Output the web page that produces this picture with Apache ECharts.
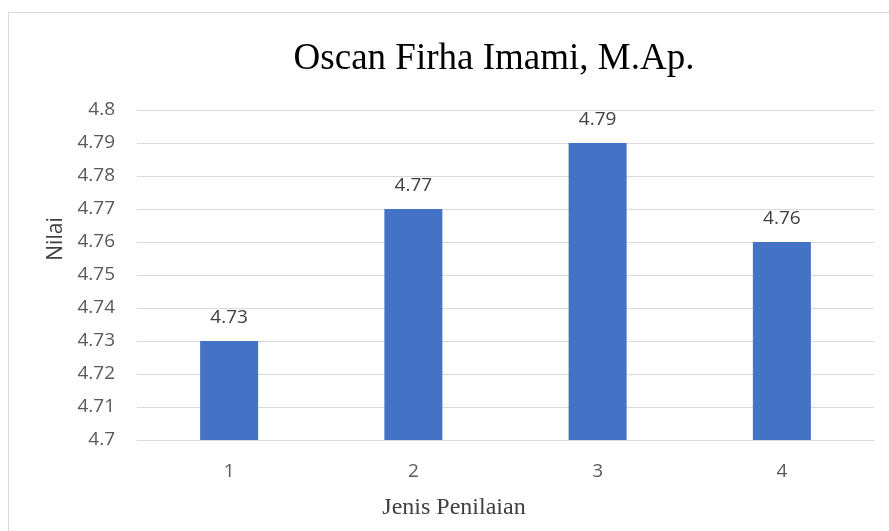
<!DOCTYPE html>
<html><head><meta charset="utf-8">
<script src="https://cdn.jsdelivr.net/npm/echarts@6/dist/echarts.min.js"></script>
<style>html,body{margin:0;padding:0;background:#fff}#c{width:889px;height:531px}</style>
</head><body><div id="c"></div>
<script>
const categories = ['1','2','3','4'];
const values = [4.73, 4.77, 4.79, 4.76];
const titleText = 'Oscan Firha Imami, M.Ap.';
const xName = 'Jenis Penilaian';
const yName = 'Nilai';
const chart = echarts.init(document.getElementById('c'));
chart.setOption({
  animation: false,
  title: { text: titleText, left: 489, top: 36, textAlign: 'center',
    textStyle: { fontFamily: 'Liberation Serif', fontSize: 37, fontWeight: 'normal', color: '#000' } },
  graphic: [
    { type: 'rect', shape: { x: 8.5, y: 12.5, width: 1000, height: 1000 },
      style: { fill: 'none', stroke: '#d9d9d9', lineWidth: 1 }, silent: true },
    { type: 'text', x: 56, y: 239, rotation: Math.PI / 2,
      style: { text: yName, fontFamily: 'Open Sans', fontSize: 21, fill: '#404040', align: 'center', verticalAlign: 'middle' } },
    { type: 'text', x: 454, y: 508,
      style: { text: xName, fontFamily: 'Liberation Serif', fontSize: 24, fill: '#404040', align: 'center', verticalAlign: 'middle' } }
  ],
  grid: { left: 137, right: 15, top: 110, bottom: 91, containLabel: false, outerBoundsMode: 'none' },
  xAxis: { type: 'category', data: categories,
    axisLine: { show: true, lineStyle: { color: '#d9d9d9', width: 1 } },
    axisTick: { show: false },
    axisLabel: { color: '#595959', fontSize: 19, fontFamily: 'Open Sans', margin: 22 } },
  yAxis: { type: 'value', min: 4.7, max: 4.8, interval: 0.01,
    axisLine: { show: false }, axisTick: { show: false },
    splitLine: { lineStyle: { color: '#d9d9d9', width: 1 } },
    axisLabel: { color: '#595959', fontSize: 19, fontFamily: 'Open Sans', margin: 22,
      formatter: v => String(parseFloat(v.toFixed(2))) } },
  series: [{ type: 'bar', data: values, barWidth: 58,
    itemStyle: { color: '#4472C4' },
    label: { show: true, position: 'top', distance: 14, color: '#404040', fontSize: 19, fontFamily: 'Open Sans',
      formatter: p => p.value.toFixed(2) } }]
});
</script></body></html>
